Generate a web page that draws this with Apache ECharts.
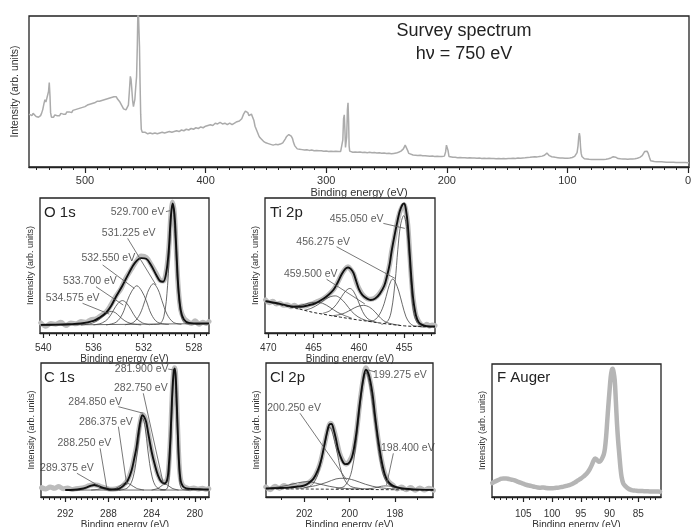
<!DOCTYPE html>
<html><head><meta charset="utf-8">
<script src="https://cdn.jsdelivr.net/npm/echarts@6/dist/echarts.min.js"></script>
<style>html,body{margin:0;padding:0;background:#fff}#c{width:691px;height:527px}</style>
</head><body><div id="c"></div>
<script>
// ---------------- DATA ----------------
const surveyTicks = [500, 400, 300, 200, 100, 0];
const o1sTicks = [540, 536, 532, 528];
const ti2pTicks = [470, 465, 460, 455];
const c1sTicks = [292, 288, 284, 280];
const cl2pTicks = [202, 200, 198];
const fTicks = [105, 100, 95, 90, 85];

const surveySpectrum = [
[546.4,35],[545.5,36],[545,35.5],[544,34],[543,35.5],[542,34.5],[541.5,35],[540.5,33.5],[539.5,34],[538.5,33],[537.8,32.5],[536.8,34],[536,35.5],[535,38],[534,42],[533.2,44.5],[532.4,43],[531.6,42],[531,44],[530.2,50],[529.6,56],[529,47],[528.5,36],[527.8,33],[527,33.5],[526,33],[525,34.5],[524,33.5],[523,34],[522,35],[521,34],[520,35.5],[519,34.5],[518,35],[517,36],[516,35],[515,36.5],[514,35.5],[513,36.5],[512,37],[511,36],[510,37.5],[509,37],[508,38],[507,37],[506,38.5],[505,38],[504,39],[503,38.5],[502,39.5],[501,39],[500,40],[499,39.5],[498,41],[497,40],[496,41.5],[495,41],[494,42],[493,41.5],[492,42.5],[491,42],[490,43.5],[489,42.5],[488,43.5],[487,43],[486,44],[485,43.5],[484,44.5],[483,44],[482,45],[481,44.5],[480,45.5],[479,45],[478,46],[477,45.5],[476,46.5],[475,46],[474,46.5],[473,45],[472,44.5],[471,43],[470,41.5],[469,40],[468,38.5],[467,37.5],[466,37.8],[465,39],[464,41],[463.2,50],[462.4,60],[461.8,58],[461.2,52],[460.5,44],[459.8,40],[459.2,41],[458.6,45],[458,52],[457.2,60],[456.6,80],[456,110],[455.4,110],[454.8,80],[454.3,55],[453.8,35],[453.3,25],[452.5,23],[451.5,22.5],[450,23],[449,22.5],[448,22],[446,22.5],[444,22],[442,22.5],[440,22],[438,22.5],[436,23],[434,22.5],[432,23],[430,23.5],[428,23],[426,23.5],[424,24],[422,23.5],[420,24.5],[418,24],[416,25],[414,24.5],[412,25.5],[410,25],[408,26],[406,25.5],[404,26.5],[402,26],[400,27],[398,27.5],[396,28],[394,27.5],[392,29],[390,28.5],[388,29.5],[386,28.5],[384,29],[382,28],[380,29],[378,28],[376,29],[374,30],[372,30.5],[370,32],[368.5,35],[367,37],[366,38],[365,36],[364,34],[363,34.5],[362,35],[361,34],[360,31],[359,27],[358,25],[357,23],[356,21],[355,19.5],[354,18.5],[352,17],[350,16],[348,15.5],[346,15],[344,14.5],[342,15],[340,14.8],[338,15.2],[336,16],[335,17],[334,18.5],[333,20],[332,21],[331,21.5],[330,20.5],[329,20.5],[328,19],[327,16],[326,14],[325,12.8],[324,12],[322,11.8],[320,11.5],[318,11.2],[316,11.4],[314,11],[312,11.2],[310,10.8],[308,11],[306,10.7],[304,10.8],[302,10.5],[300,10.6],[298,10.3],[296,10.5],[294,10.2],[292,10.4],[290,10.2],[288,10.3],[287,10.5],[286.2,18],[285.6,32],[285,34.5],[284.5,25],[284,13],[283.5,12],[283,20],[282.4,38],[281.9,42.5],[281.4,30],[281,14],[280.5,10.5],[279.5,10],[278,9.8],[276,10],[274,9.7],[272,9.9],[270,9.6],[268,9.8],[266,9.5],[264,9.7],[262,9.4],[260,9.6],[258,9.3],[256,9.4],[254,9.1],[252,9.3],[250,9],[248,9.1],[246,8.8],[244,9],[242,9.2],[240,9.8],[238,10.5],[236,12],[234.5,14.5],[233.5,14],[232.5,11],[231.5,9],[230,8.5],[228,8],[226,7.8],[224,7.6],[222,7.8],[220,7.4],[218,7.5],[216,7.3],[214,7.1],[212,7.3],[210,7],[208,7.1],[206,6.9],[204,7],[202,7.2],[201,10],[200.3,14.5],[199.5,15],[199,11],[198.2,7],[197,6.6],[195,6.4],[193,6.5],[191,6.2],[189,6.3],[187,6.1],[185,6.2],[183,6],[181,6.1],[179,5.9],[177,6],[175,5.8],[173,5.9],[171,5.7],[169,5.8],[167,5.6],[165,5.8],[163,5.6],[161,5.7],[159,5.5],[157,5.7],[155,5.5],[153,5.6],[151,5.5],[149,5.7],[147,5.6],[145,5.8],[143,5.7],[141,5.9],[139,5.8],[137,6],[135,6.1],[133,6.3],[131,6.4],[129,6.6],[127,6.8],[125,6.7],[123,7],[121,7.2],[119,7.8],[118,8.8],[117,9.2],[116,8.6],[115,7.5],[114,7],[113,6.8],[112,6.6],[110,6.4],[108,6.2],[106,6],[104,5.9],[102,5.8],[100,5.8],[98,6],[96,6.3],[94,7],[93,8],[92,9.5],[91.2,14],[90.6,20],[90.1,22.5],[89.6,20],[89.1,13],[88.6,9],[88,7],[87,6],[86,5.5],[84,5.3],[82,5.1],[80,5],[78,5],[76,4.9],[74,5],[72,4.9],[70,5],[68,5.2],[66,5.5],[64,6],[62,6.8],[61,7],[60,6.5],[59,6],[58,5.6],[56,5.4],[54,5.3],[52,5.3],[50,5.2],[48,5.3],[46,5.3],[44,5.5],[42,5.8],[40,6.4],[38,7.5],[37,8.8],[36,10.2],[35,10.8],[34,10.5],[33,9],[32,6.5],[31,4.2],[30,3.8],[28,3.6],[26,3.5],[24,3.4],[22,3.4],[20,3.3],[18,3.2],[16,3.2],[14,3.1],[12,3.1],[10,3],[8,3],[6,2.9],[4,2.9],[2,2.9],[0,2.8],[-0.8,2.8]
];

// O 1s
const o1sData = [[540.2,7.5],[539.8,5],[539.4,7],[539,6.5],[538.6,8],[538.2,5.5],[537.8,7.5],[537.4,6.8],[537,8.5],[536.6,8],[536.2,10],[535.8,10.5],[535.4,13],[535,15.5],[534.6,21],[534.2,27.5],[533.8,33],[533.4,41],[533,47],[532.6,53],[532.2,57],[531.8,56],[531.4,50.5],[531,44],[530.7,39],[530.45,38.5],[530.2,46],[530,63],[529.85,86],[529.7,97],[529.55,88],[529.4,60],[529.25,34],[529.05,17],[528.8,11],[528.5,8.5],[528.2,7],[527.9,9],[527.6,6.5],[527.3,8],[527,7],[526.8,8.5]];
const o1sEnvelope = [[540.2,6],[539,6.2],[538,6.5],[537,7],[536,9],[535.5,11.5],[535,15],[534.6,20],[534.2,27],[533.7,35],[533.2,44],[532.7,52],[532.2,55.5],[531.8,55],[531.4,50],[531,43],[530.7,38.5],[530.45,38],[530.2,45],[530,62],[529.85,85],[529.7,96],[529.55,88],[529.4,62],[529.25,35],[529.05,17],[528.8,10],[528.4,7.5],[527.5,7],[526.8,7]];
const o1sBaseline = [[540.2,5.8],[526.8,7]];
const o1s_529_700 = [[531.5,6.3],[530.8,6.6],[530.4,12],[530.1,35],[529.9,70],[529.7,95],[529.5,70],[529.3,35],[529.0,12],[528.6,6.8],[527.5,6.6]];
const o1s_531_225 = [[533.5,6.1],[532.8,8],[532.3,14],[531.9,24],[531.6,32],[531.225,36.5],[530.85,32],[530.55,24],[530.15,14],[529.65,8],[529,6.4]];
const o1s_532_550 = [[535,6],[534.2,8],[533.7,14],[533.3,24],[532.95,31],[532.55,35],[532.15,31],[531.8,24],[531.4,14],[530.9,8],[530,6.3]];
const o1s_533_700 = [[536,6],[535.3,7.5],[534.8,11],[534.4,17],[534.05,22],[533.7,24],[533.35,22],[533,17],[532.6,11],[532.1,7.5],[531.5,6.1]];
const o1s_534_575 = [[537,5.9],[536.2,7],[535.7,9],[535.2,12.5],[534.9,15],[534.575,16],[534.25,15],[533.95,12.5],[533.5,9],[533,7],[532.2,6]];

// Ti 2p
const ti2pData = [[470.3,24.5],[469.9,22.5],[469.5,23.5],[469.1,21.5],[468.7,22],[468.3,20.5],[467.9,21],[467.5,19.5],[467.1,20.5],[466.7,19],[466.3,20],[465.9,20],[465.5,21],[465.1,21.8],[464.7,23],[464.3,24],[463.9,25.5],[463.5,27.5],[463.1,30],[462.7,33],[462.3,38],[461.9,43.5],[461.5,47.5],[461.2,49],[460.9,47],[460.6,44],[460.3,38],[460,33],[459.6,28.5],[459.1,25.5],[458.7,25],[458.2,26],[457.7,29.5],[457.2,35],[456.9,42],[456.6,51],[456.4,60],[456.1,70],[455.8,81],[455.5,89],[455.2,94],[455.0,95],[454.8,90],[454.6,80],[454.4,60],[454.2,40],[454.0,25],[453.7,13],[453.4,8.5],[453.1,6],[452.8,5.5],[452.5,6.5],[452.2,5],[451.9,6],[451.6,5.5]];
const ti2pEnvelope = [[470.3,23.5],[469.8,23],[469,22],[468,20.5],[467.2,19.5],[466.4,19.5],[465.6,20.5],[464.8,22],[464,25],[463.4,28],[462.8,32],[462.3,38],[461.9,43.5],[461.5,47.5],[461.2,48.5],[460.9,47.5],[460.6,44.5],[460.3,38.5],[460,32.5],[459.6,28],[459.1,25.5],[458.7,24.5],[458.2,25.5],[457.7,29],[457.2,35],[456.9,42],[456.6,51],[456.4,60],[456.1,71],[455.8,81],[455.5,90],[455.2,95],[455.0,96],[454.8,91],[454.6,80],[454.4,60],[454.2,40],[454.0,25],[453.7,13],[453.4,8],[453,6],[452.5,5],[451.6,4.8]];
const ti2pBaseline = [[470.3,23.5],[469,21.5],[468,20],[467,18.5],[466,16.8],[465,15.2],[464,14],[463,12.8],[462,11.7],[461,10.6],[460,9.6],[459,8.7],[458,7.7],[457,6.8],[456,6],[455,5.3],[454,4.9],[453,4.7],[451.6,4.6]];
const ti2p_455_050 = [[457.5,6.3],[456.8,9],[456.4,17],[456.0,38],[455.7,62],[455.4,80],[455.05,87],[454.75,79],[454.5,60],[454.25,35],[454.0,17],[453.6,8],[453,5.3],[452,4.8]];
const ti2p_456_275 = [[459,8.7],[458.3,9.5],[457.7,14],[457.2,22],[456.8,32],[456.5,38],[456.275,40],[456.0,38],[455.6,31],[455.2,21],[454.8,12],[454.4,7.5],[454,5.5],[453,4.9]];
const ti2p_459_500 = [[463,12.8],[462.2,13.5],[461.5,15],[460.8,17.5],[460.2,19.5],[459.5,20.5],[458.8,19],[458.2,15.5],[457.6,11],[457,8],[456.2,6.5],[455.5,5.8]];
const ti2p_461_000 = [[464,14.5],[463.2,16.5],[462.5,21],[461.9,27],[461.4,31.5],[461.0,33],[460.6,31],[460.1,24],[459.6,16],[459.1,11],[458.5,8.8],[457.8,7.5]];
const ti2p_462_600 = [[466,16.8],[465.2,18.5],[464.4,21.5],[463.7,25],[463.1,27],[462.6,27.5],[462.1,26],[461.5,22],[460.8,16],[460.1,12],[459.3,9.5],[458.5,8.3]];
const ti2p_464_800 = [[468,19.5],[467.2,19.8],[466.4,20.5],[465.6,22],[464.8,22.8],[464.0,22],[463.2,19],[462.4,15.5],[461.6,13],[460.8,11]];

// C 1s
const c1sData = [[294.2,7],[293.8,6],[293.4,7.5],[293,6.5],[292.6,7.8],[292.2,6.2],[291.8,6.8],[291.4,5.6],[291,6.2],[290.6,6.5],[290.2,7.2],[289.8,8.4],[289.4,9.2],[289,8.8],[288.6,7.5],[288.2,6.6],[287.8,5.8],[287.4,6],[287,6.8],[286.6,9],[286.2,13],[285.85,20.5],[285.6,29.5],[285.4,37.5],[285.2,49],[285,58],[284.85,61.5],[284.7,60.5],[284.5,56],[284.3,47.5],[284,34.5],[283.7,24.5],[283.4,16.5],[283.1,12],[282.8,10.8],[282.55,13.5],[282.4,24],[282.25,45],[282.1,75],[281.95,94],[281.85,96.5],[281.75,88],[281.6,55],[281.45,25],[281.3,12.5],[281.1,8.5],[280.8,7],[280.5,6.2],[280.1,6.8],[279.7,5.9],[279.3,6.5],[278.9,5.8],[278.7,6.2]];
const c1sEnvelope = [[292,5.2],[291.2,5.4],[290.6,6],[290,7.2],[289.6,8.5],[289.3,9],[289,8.5],[288.6,7.2],[288.2,6.2],[287.8,5.5],[287.4,5.6],[287,6.3],[286.6,8.5],[286.2,12.5],[285.85,20],[285.6,29],[285.4,37],[285.2,49],[285.0,58],[284.85,61],[284.7,60],[284.5,56],[284.3,47],[284.0,34],[283.7,24],[283.4,16],[283.1,11.5],[282.8,10.2],[282.55,13],[282.4,24],[282.25,45],[282.1,75],[281.95,94],[281.85,96],[281.75,88],[281.6,55],[281.45,25],[281.3,12],[281.1,8],[280.8,6.5],[280.3,6],[279.5,5.8],[278.7,5.6]];
const c1sBaseline = [[292,5.2],[278.7,5.2]];
const c1s_281_900 = [[283.2,5.2],[282.6,6],[282.35,18],[282.15,55],[281.9,94],[281.65,55],[281.45,18],[281.2,6],[280.5,5.2]];
const c1s_282_750 = [[284,5.2],[283.4,6.5],[283.0,8.8],[282.75,9.5],[282.5,8.8],[282.1,6.5],[281.5,5.2]];
const c1s_284_850 = [[287,5.2],[286.2,7],[285.7,15],[285.3,35],[285.05,52],[284.85,59],[284.6,52],[284.35,35],[283.95,15],[283.5,7],[282.7,5.2]];
const c1s_286_375 = [[288,5.2],[287.3,6.5],[286.8,9],[286.375,10.5],[285.9,9],[285.4,6.5],[284.7,5.2]];
const c1s_288_250 = [[289.6,5.2],[289,5.7],[288.6,6.4],[288.25,6.8],[287.9,6.4],[287.5,5.7],[286.9,5.2]];
const c1s_289_375 = [[291,5.2],[290.3,6],[289.8,7.8],[289.375,8.6],[288.95,7.8],[288.4,6],[287.7,5.2]];

// Cl 2p
const cl2pData = [[203.7,7.5],[203.5,5.5],[203.3,8],[203.1,6.5],[202.9,8.5],[202.7,7],[202.5,9],[202.3,7.5],[202.1,9.5],[201.9,10],[201.7,12],[201.5,16.5],[201.3,25],[201.1,40],[200.95,51],[200.85,55],[200.75,53],[200.6,44],[200.45,33],[200.3,27],[200.15,24.5],[200.0,27],[199.85,33],[199.7,48],[199.55,70],[199.4,88],[199.28,96.5],[199.15,91],[199.0,78],[198.88,61],[198.75,44],[198.6,28],[198.45,17.5],[198.3,12],[198.1,9],[197.9,6],[197.7,7.5],[197.5,5.5],[197.3,7],[197.1,5],[196.9,6.8],[196.7,5.2],[196.5,6.5],[196.3,5]];
const cl2pEnvelope = [[203.7,6.3],[203.2,6.6],[202.7,7],[202.3,7.8],[202,8.6],[201.8,10.5],[201.6,13.5],[201.4,20],[201.25,28],[201.1,40],[201.0,48],[200.9,54],[200.8,54.5],[200.7,50],[200.6,43],[200.5,35],[200.35,28],[200.2,24.5],[200.05,25],[199.9,29.5],[199.8,37],[199.7,48],[199.55,70],[199.4,88],[199.28,95],[199.15,91],[199.0,78],[198.88,61],[198.75,44],[198.6,28],[198.45,17],[198.3,11.5],[198.1,8.5],[197.8,6.8],[197.4,6],[196.9,5.5],[196.3,5.3]];
const cl2pBaseline = [[203.7,6.2],[196.3,5.2]];
const cl2p_199_275 = [[200.6,6],[200.2,8.5],[199.9,20],[199.65,50],[199.45,80],[199.275,93],[199.1,82],[198.88,55],[198.65,27],[198.4,12],[198.0,7],[197,5.5]];
const cl2p_200_875 = [[202.2,6.5],[201.7,8.5],[201.4,17],[201.15,35],[200.875,52],[200.6,37],[200.35,18],[200.05,9],[199.6,6.5],[199,6]];
const cl2p_200_250 = [[202,7],[201.5,8.5],[201,11],[200.6,13.5],[200.25,14],[199.8,12.5],[199.3,9.5],[198.7,7],[198,6]];
const cl2p_201_850 = [[203.5,6.5],[202.8,8.5],[202.3,10.5],[201.85,11.5],[201.4,10],[200.9,8],[200.3,6.5],[199.5,6]];
const cl2p_198_400 = [[199.3,5.6],[198.9,6.8],[198.6,8],[198.4,8.3],[198.2,8],[197.9,6.8],[197.5,5.6]];

// F Auger
const fAugerData = [[110.4,10.5],[110,11.5],[109.5,12.5],[109,13.5],[108.5,14],[108,14],[107.5,13.5],[107,13],[106.5,12.5],[106,11.5],[105.5,10.8],[105,10],[104.5,9.2],[104,8.6],[103.5,8.2],[103,7.6],[102.5,7.2],[102,7],[101.5,7.2],[101,6.8],[100.5,6.6],[100,6.5],[99.5,6.8],[99,7],[98.5,7.4],[98,7.8],[97.5,8.4],[97,9],[96.5,9.8],[96,11],[95.5,12.5],[95,13.8],[94.5,15.5],[94,17.5],[93.5,20.5],[93.1,24],[92.8,27],[92.5,29],[92.2,28],[91.9,26.5],[91.6,27],[91.3,29],[91,32],[90.8,36.5],[90.6,45],[90.4,57],[90.2,69],[90,80],[89.8,90],[89.6,95.5],[89.45,96.5],[89.3,94],[89.1,88],[88.9,72],[88.7,55],[88.5,42],[88.3,32],[88.1,22],[87.9,15],[87.6,10],[87.2,8],[86.8,6.5],[86.4,5.5],[86,5],[85.5,4.8],[85,4.6],[84.5,4.5],[84,4.4],[83.5,4.3],[83,4.2],[82.5,4.2],[82,4.1],[81.5,4.1],[81.2,4]];

// peak annotations: text, text position, leader line (data coordinates)
const o1sNotes = [
  ['529.700 eV', [532.49, 89.9], [[530.23, 89.9], [529.91, 90.6]]],
  ['531.225 eV', [533.2, 73.8], [[533.28, 70.1], [531.02, 35.6]]],
  ['532.550 eV', [534.82, 55.3], [[535.27, 50.4], [532.74, 33]]],
  ['533.700 eV', [536.28, 38.7], [[535.8, 34.3], [533.63, 20.7]]],
  ['534.575 eV', [537.66, 25.7], [[536.87, 22], [534.74, 14]]]
];
const ti2pNotes = [
  ['455.050 eV', [460.25, 84.2], [[457.3, 81.2], [454.93, 77.5]]],
  ['456.275 eV', [463.94, 67.6], [[462.46, 63.9], [456.03, 40.5]]],
  ['459.500 eV', [465.31, 43.7], [[463.56, 39.8], [459.34, 21.5]]]
];
const c1sNotes = [
  ['281.900 eV', [284.92, 95.5], [[282.46, 95.5], [282.0, 94.8]]],
  ['282.750 eV', [285.0, 81.1], [[284.77, 77.4], [282.92, 10.2]]],
  ['284.850 eV', [289.23, 71.1], [[287.08, 67.4], [284.77, 62.5]]],
  ['286.375 eV', [288.23, 56.2], [[287.08, 52.5], [286.3, 9]]],
  ['288.250 eV', [290.23, 40.1], [[288.77, 36.3], [288.15, 6.5]]],
  ['289.375 eV', [291.85, 21.4], [[290.92, 17.7], [288.77, 7.7]]]
];
const cl2pNotes = [
  ['199.275 eV', [197.78, 91], [[198.88, 93.3], [199.18, 94.8]]],
  ['200.250 eV', [202.45, 66.2], [[202.19, 62.5], [200.13, 12.7]]],
  ['198.400 eV', [197.43, 36.3], [[198.07, 32.6], [198.37, 9]]]
];

// ---------------- CHART ----------------
const FONT = '"Liberation Sans", Arial, Helvetica, sans-serif';
const INK = '#222';
function tickRange(from, to, step) {
  const out = []; const n = Math.round((to - from) / step);
  for (let k = 0; k <= n; k++) out.push(+(from + k * step).toFixed(3));
  return out;
}
const panels = [
  {box:{left:29, top:16, width:660, height:151}, min:-0.8, max:546.4, majors:surveyTicks, minors:tickRange(0,540,10),
   lab:11, labMargin:8, nameGap:20, nameSize:11, ySize:10.5, yGap:8, majLen:6, minLen:3},
  {box:{left:40, top:198, width:169, height:135}, min:526.8, max:540.26, majors:o1sTicks, minors:tickRange(527,540,0.5),
   lab:10, labMargin:10, nameGap:19, nameSize:10, ySize:9, yGap:5, majLen:5, minLen:3},
  {box:{left:265, top:198, width:170, height:135}, min:451.6, max:470.36, majors:ti2pTicks, minors:tickRange(452,470,1),
   lab:10, labMargin:10, nameGap:19, nameSize:10, ySize:9, yGap:5, majLen:5, minLen:3},
  {box:{left:41, top:363, width:168, height:134}, min:278.68, max:294.25, majors:c1sTicks, minors:tickRange(279,294,0.5),
   lab:10, labMargin:12, nameGap:21, nameSize:10, ySize:9, yGap:5, majLen:5, minLen:3},
  {box:{left:266, top:363, width:167, height:134}, min:196.32, max:203.69, majors:cl2pTicks, minors:tickRange(197,203,1),
   lab:10, labMargin:12, nameGap:21, nameSize:10, ySize:9, yGap:5, majLen:5, minLen:3},
  {box:{left:492, top:364, width:169, height:133}, min:81.05, max:110.44, majors:fTicks, minors:tickRange(82,110,1),
   lab:10, labMargin:12, nameGap:21, nameSize:10, ySize:9, yGap:5, majLen:5, minLen:3}
];

const grid = [], xAxis = [], yAxis = [], series = [];
panels.forEach((p, i) => {
  grid.push(Object.assign({show:true, borderColor:INK, borderWidth:1.3, backgroundColor:'transparent',
    containLabel:false, outerBoundsMode:'none'}, p.box));
  xAxis.push({gridIndex:i, type:'value', position:'bottom', min:p.min, max:p.max, inverse:true,
    axisLine:{show:true, onZero:false, lineStyle:{color:INK, width:1.3}},
    axisTick:{show:true, customValues:p.minors, length:p.minLen, lineStyle:{color:INK, width:1}},
    axisLabel:{show:false}, splitLine:{show:false}});
  xAxis.push({gridIndex:i, type:'value', position:'bottom', min:p.min, max:p.max, inverse:true,
    axisLine:{show:false, onZero:false},
    axisTick:{show:true, customValues:p.majors, length:p.majLen, lineStyle:{color:INK, width:1.2}},
    axisLabel:{show:true, customValues:p.majors, margin:p.labMargin, fontSize:p.lab, color:'#333', fontFamily:FONT},
    splitLine:{show:false},
    name:'Binding energy (eV)', nameLocation:'middle', nameGap:p.nameGap,
    nameTextStyle:{fontSize:p.nameSize, color:'#333', fontFamily:FONT}});
  yAxis.push({gridIndex:i, type:'value', min:0, max:100,
    axisLine:{show:false}, axisTick:{show:false}, axisLabel:{show:false}, splitLine:{show:false},
    name:'Intensity (arb. units)', nameLocation:'middle', nameRotate:90, nameGap:p.yGap,
    nameTextStyle:{fontSize:p.ySize, color:'#333', fontFamily:FONT}});
});

function line(i, data, style, z, smooth) {
  series.push({type:'line', xAxisIndex:2*i, yAxisIndex:i, data:data, showSymbol:false, symbol:'none',
    smooth: smooth === undefined ? 0.35 : smooth, lineStyle:style, z:z, silent:true, clip:true, animation:false});
}
const dataStyle = {color:'#bcbcbc', width:5, cap:'round', join:'round'};
const envStyle = {color:'#111', width:1.9};
const compStyle = {color:'#444', width:0.8};
const leaderStyle = {color:'#555', width:0.8};

function notes(i, list) {
  list.forEach(n => line(i, n[2], leaderStyle, 6, false));
  series.push({type:'scatter', xAxisIndex:2*i, yAxisIndex:i, symbolSize:1, z:7, silent:true, animation:false,
    itemStyle:{color:'rgba(0,0,0,0)'},
    label:{show:true, position:'inside', formatter:'{b}', fontSize:10.5, color:'#333', fontFamily:FONT},
    data: list.map(n => ({name:n[0], value:n[1]}))});
}

// survey
line(0, surveySpectrum, {color:'#ababab', width:1.5}, 3, false);
// O 1s
line(1, o1sData, dataStyle, 2);
[o1s_529_700, o1s_531_225, o1s_532_550, o1s_533_700, o1s_534_575].forEach(c => line(1, c, compStyle, 3));
line(1, o1sBaseline, compStyle, 3, false);
line(1, o1sEnvelope, envStyle, 5);
notes(1, o1sNotes);
// Ti 2p
line(2, ti2pData, dataStyle, 2);
[ti2p_455_050, ti2p_456_275, ti2p_459_500, ti2p_461_000, ti2p_462_600, ti2p_464_800].forEach(c => line(2, c, compStyle, 3));
line(2, ti2pBaseline, {color:'#222', width:1, type:[3,2]}, 4);
line(2, ti2pEnvelope, envStyle, 5);
notes(2, ti2pNotes);
// C 1s
line(3, c1sData, dataStyle, 2);
[c1s_281_900, c1s_282_750, c1s_284_850, c1s_286_375, c1s_288_250, c1s_289_375].forEach(c => line(3, c, compStyle, 3));
line(3, c1sBaseline, compStyle, 3, false);
line(3, c1sEnvelope, envStyle, 5);
notes(3, c1sNotes);
// Cl 2p
line(4, cl2pData, dataStyle, 2);
[cl2p_199_275, cl2p_200_875, cl2p_200_250, cl2p_201_850, cl2p_198_400].forEach(c => line(4, c, compStyle, 3));
line(4, cl2pBaseline, {color:'#333', width:1, type:[3,2]}, 4, false);
line(4, cl2pEnvelope, envStyle, 5);
notes(4, cl2pNotes);
// F Auger
line(5, fAugerData, {color:'#b5b5b5', width:4.5, cap:'round', join:'round'}, 2);

const panelTitle = (text, left, top) => ({text:text, left:left, top:top, padding:0,
  textStyle:{fontSize:15, fontWeight:'normal', color:INK, fontFamily:FONT}});
const option = {
  animation:false,
  backgroundColor:'#fff',
  textStyle:{fontFamily:FONT},
  title:[
    {text:'Survey spectrum\nhν = 750 eV', left:464, top:20, textAlign:'center', padding:0,
     textStyle:{fontSize:18, fontWeight:'normal', color:INK, lineHeight:23, fontFamily:FONT}},
    panelTitle('O 1s', 44, 205),
    panelTitle('Ti 2p', 270, 205),
    panelTitle('C 1s', 44, 370),
    panelTitle('Cl 2p', 270, 370),
    panelTitle('F Auger', 497, 370)
  ],
  grid:grid, xAxis:xAxis, yAxis:yAxis, series:series
};
const chart = echarts.init(document.getElementById('c'), null, {renderer:'canvas'});
chart.setOption(option);
</script></body></html>
